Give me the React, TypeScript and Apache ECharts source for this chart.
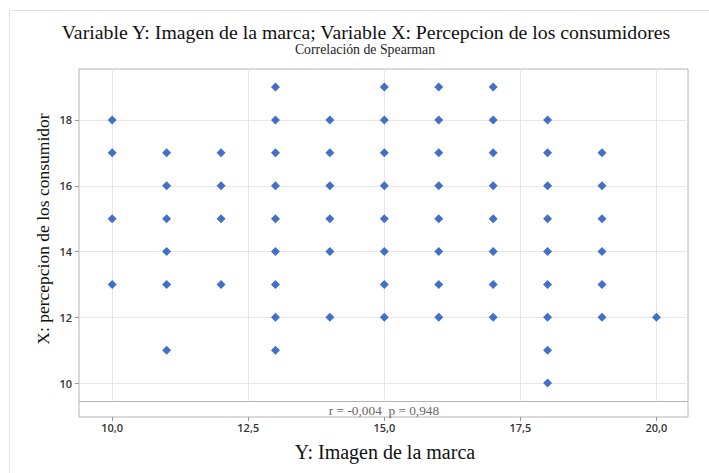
import React, { useEffect, useRef } from "react";
import * as echarts from "echarts";

// Y: Imagen de la marca (horizontal), X: percepcion de los consumidor (vertical)
const imagenMarca: number[] = [
  10, 10, 10, 10,
  11, 11, 11, 11, 11, 11,
  12, 12, 12, 12,
  13, 13, 13, 13, 13, 13, 13, 13, 13,
  14, 14, 14, 14, 14, 14,
  15, 15, 15, 15, 15, 15, 15, 15,
  16, 16, 16, 16, 16, 16, 16, 16,
  17, 17, 17, 17, 17, 17, 17, 17,
  18, 18, 18, 18, 18, 18, 18, 18, 18,
  19, 19, 19, 19, 19, 19,
  20,
];
const percepcion: number[] = [
  18, 17, 15, 13,
  17, 16, 15, 14, 13, 11,
  17, 16, 15, 13,
  19, 18, 17, 16, 15, 14, 13, 12, 11,
  18, 17, 16, 15, 14, 12,
  19, 18, 17, 16, 15, 14, 13, 12,
  19, 18, 17, 16, 15, 14, 13, 12,
  19, 18, 17, 16, 15, 14, 13, 12,
  18, 17, 16, 15, 14, 13, 12, 11, 10,
  17, 16, 15, 14, 13, 12,
  12,
];
const xTicks: number[] = [10, 12.5, 15, 17.5, 20];
const yTicks: number[] = [10, 12, 14, 16, 18];

const titleText = "Variable Y: Imagen de la marca; Variable X: Percepcion de los consumidores";
const subtitleText = "Correlación de Spearman";
const xTitle = "Y: Imagen de la marca";
const yTitle = "X: percepcion de los consumidor";
const statText = "r = -0,004  p = 0,948";

export default function App() {
  const ref = useRef<HTMLDivElement>(null);
  useEffect(() => {
    if (!ref.current) return;
    const chart = echarts.init(ref.current, null, { renderer: "svg" });
    const serif = "'Liberation Serif', 'Times New Roman', serif";
    const sans = "'Open Sans', 'Noto Sans', sans-serif";
    const L = 79, T = 69, W = 609, H0 = 332.5, H1 = 15.5;
    const xMin = 9.39, xMax = 20.58, yMin = 9.44, yMax = 19.55;
    const fmt = (v: number) => v.toFixed(1).replace(".", ",");
    chart.setOption({
      animation: false,
      backgroundColor: "#ffffff",
      grid: [
        { left: L, top: T, width: W, height: H0, show: true, borderColor: "#b4b4b4", borderWidth: 1, backgroundColor: "transparent" },
        { left: L, top: T + H0, width: W, height: H1, show: true, borderColor: "#b4b4b4", borderWidth: 1, backgroundColor: "transparent" },
      ],
      xAxis: [
        { type: "value", gridIndex: 0, min: xMin, max: xMax, show: false, splitLine: { show: false } },
        {
          type: "value", gridIndex: 1, min: xMin, max: xMax,
          axisLine: { show: false },
          splitLine: { show: false },
          axisTick: { show: true, customValues: xTicks, inside: false, length: 4, lineStyle: { color: "#999" } },
          axisLabel: { customValues: xTicks, formatter: fmt, margin: 5, fontFamily: sans, fontSize: 11, fontWeight: 600, color: "#333" },
        },
      ],
      yAxis: [
        {
          type: "value", gridIndex: 0, min: yMin, max: yMax,
          axisLine: { show: false },
          splitLine: { show: false },
          axisTick: { show: true, customValues: yTicks, inside: false, length: 4, lineStyle: { color: "#999" } },
          axisLabel: { customValues: yTicks, margin: 7, fontFamily: sans, fontSize: 11, fontWeight: 600, color: "#333" },
        },
        { type: "value", gridIndex: 1, min: 0, max: 1, show: false, splitLine: { show: false } },
      ],
      series: [
        {
          type: "scatter",
          xAxisIndex: 0,
          yAxisIndex: 0,
          z: 3,
          symbol: "diamond",
          symbolSize: [9, 9],
          itemStyle: { color: "#4270c8", opacity: 1 },
          data: imagenMarca.map((x, i) => [x, percepcion[i]]),
          markLine: {
            z: 1,
            silent: true,
            symbol: "none",
            label: { show: false },
            lineStyle: { color: "#e6e6e6", width: 1, type: "solid" },
            data: [
              ...xTicks.map((v) => ({ xAxis: v })),
              ...yTicks.map((v) => ({ yAxis: v })),
            ],
          },
        },
      ],
      graphic: [
        { type: "rect", z: -10, shape: { x: 9.5, y: 10.5, width: 720, height: 480 }, style: { fill: "none", stroke: "#e2e2e2", lineWidth: 1 } },
        { type: "text", x: 366, y: 32, style: { text: titleText, font: `19.8px ${serif}`, fill: "#111", align: "center", verticalAlign: "middle" } },
        { type: "text", x: 365, y: 49, style: { text: subtitleText, font: `13.8px ${serif}`, fill: "#222", align: "center", verticalAlign: "middle" } },
        { type: "text", x: 384, y: 410, style: { text: statText, font: `13.3px ${serif}`, fill: "#666", align: "center", verticalAlign: "middle" } },
        { type: "text", x: 385, y: 452, style: { text: xTitle, font: `20px ${serif}`, fill: "#111", align: "center", verticalAlign: "middle" } },
        { type: "text", x: 43, y: 229, rotation: Math.PI / 2, style: { text: yTitle, font: `17.5px ${serif}`, fill: "#111", align: "center", verticalAlign: "middle" } },
      ],
    });
    return () => chart.dispose();
  }, []);
  return <div ref={ref} style={{ position: "fixed", left: 0, top: 0, width: 709, height: 473 }} />;
}
